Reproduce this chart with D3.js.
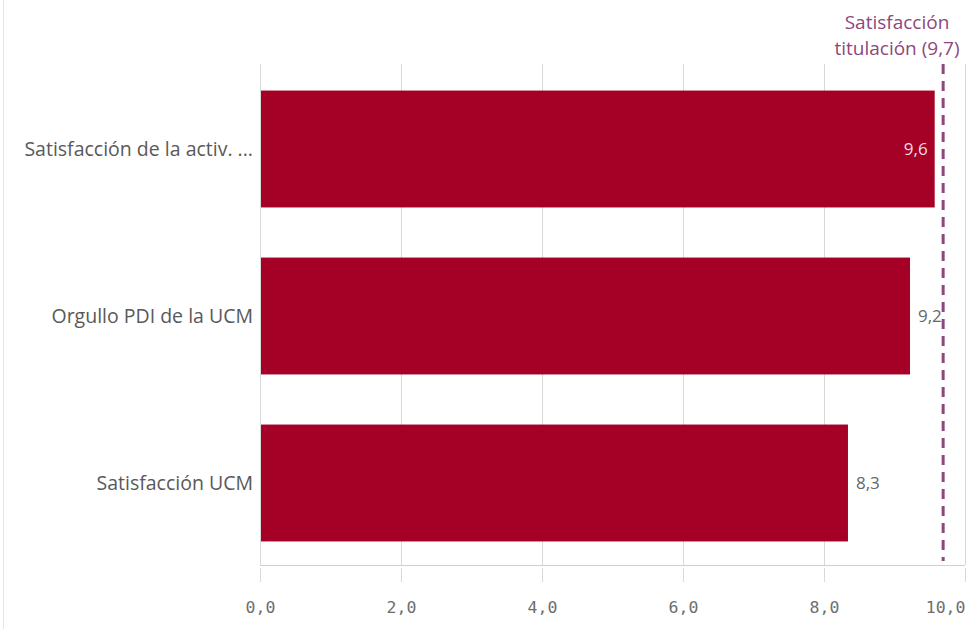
<!DOCTYPE html>
<html>
<head>
<meta charset="utf-8">
<script src="https://cdn.jsdelivr.net/npm/d3@7"></script>
<style>
  html, body { margin: 0; padding: 0; background: #fff; }
  svg { display: block; }
</style>
</head>
<body>
<svg id="chart" width="967" height="629"></svg>
<script>
const categories = ["Satisfacción de la activ. ...", "Orgullo PDI de la UCM", "Satisfacción UCM"];
const values = [9.57, 9.22, 8.34];
const valueLabels = ["9,6", "9,2", "8,3"];
const refValue = 9.69;
const refLabelLines = ["Satisfacción", "titulación (9,7)"];
const tickValues = [0, 2, 4, 6, 8, 10];

(function () {
const svg = d3.select("#chart");
const W = 967, H = 629;
const mLeft = 260, mRight = 965, mTop = 64, mBottom = 565;

// faint left border
svg.append("line").attr("x1", 3.5).attr("x2", 3.5).attr("y1", 0).attr("y2", H)
  .attr("stroke", "#e6e6e6").attr("stroke-width", 1);

const x = d3.scaleLinear().domain([0, 10]).range([mLeft, mRight]);
const y = d3.scaleBand().domain(categories).range([mTop + 1.5, mBottom + 1.5])
  .paddingInner(0.3).paddingOuter(0.15);

// gridlines
svg.append("g").selectAll("line").data(tickValues).join("line")
  .attr("x1", d => Math.round(x(d)) + 0.5).attr("x2", d => Math.round(x(d)) + 0.5)
  .attr("y1", mTop).attr("y2", mBottom)
  .attr("stroke", "#d9d9d9").attr("stroke-width", 1);

// bottom axis line
svg.append("line").attr("x1", mLeft).attr("x2", mRight)
  .attr("y1", mBottom + 0.5).attr("y2", mBottom + 0.5)
  .attr("stroke", "#d0d0d0").attr("stroke-width", 1);

// x axis
const xAxis = d3.axisBottom(x).tickValues(tickValues)
  .tickFormat(d => d3.format(".1f")(d).replace(".", ","))
  .tickSize(14).tickPadding(19);
const gx = svg.append("g").attr("transform", `translate(0,${mBottom + 3})`).call(xAxis);
gx.select(".domain").remove();
gx.selectAll(".tick line").attr("stroke", "#d9d9d9");
gx.selectAll(".tick text")
  .attr("font-family", "'DejaVu Sans Mono', monospace")
  .attr("font-size", 16.5).attr("fill", "#6e6e6e");
gx.selectAll(".tick").filter(d => d === 10).select("text").attr("text-anchor", "end").attr("dx", 0);

// bars
svg.append("g").selectAll("rect").data(categories).join("rect")
  .attr("x", x(0) + 1)
  .attr("y", d => y(d))
  .attr("width", (d, i) => x(values[i]) - x(0) - 1)
  .attr("height", y.bandwidth())
  .attr("fill", "#a50026");

// category labels
svg.append("g").selectAll("text").data(categories).join("text")
  .attr("x", mLeft - 7)
  .attr("y", d => y(d) + y.bandwidth() / 2)
  .attr("dy", "0.35em")
  .attr("text-anchor", "end")
  .attr("font-family", "'Open Sans', sans-serif")
  .attr("font-size", 19.5)
  .attr("fill", "#595959")
  .text(d => d);

// value labels
svg.append("g").selectAll("text").data(categories).join("text")
  .attr("x", (d, i) => i === 0 ? x(values[i]) - 7 : x(values[i]) + 8)
  .attr("y", d => y(d) + y.bandwidth() / 2)
  .attr("dy", "0.35em")
  .attr("text-anchor", (d, i) => i === 0 ? "end" : "start")
  .attr("font-family", "'Open Sans', sans-serif")
  .attr("font-size", 17)
  .attr("fill", (d, i) => i === 0 ? "#f2dde2" : "#666")
  .text((d, i) => valueLabels[i]);

// reference line
const rx = x(refValue);
svg.append("line").attr("x1", rx).attr("x2", rx)
  .attr("y1", mTop).attr("y2", mBottom - 4)
  .attr("stroke", "#8e477d").attr("stroke-width", 3)
  .attr("stroke-dasharray", "10,7");

svg.append("g").selectAll("text").data(refLabelLines).join("text")
  .attr("x", 897)
  .attr("y", (d, i) => 29 + i * 26)
  .attr("text-anchor", "middle")
  .attr("font-family", "'Open Sans', sans-serif")
  .attr("font-size", 19)
  .attr("fill", "#8e477d")
  .text(d => d);
})();
</script>
</body>
</html>
